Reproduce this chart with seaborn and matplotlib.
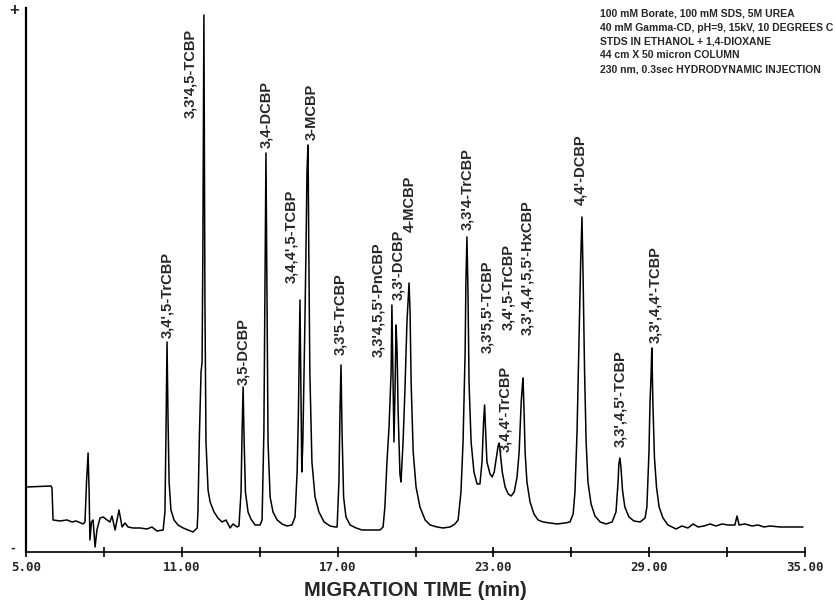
import matplotlib
matplotlib.use("Agg")
import matplotlib.pyplot as plt
import seaborn as sns

sns.set_theme(style="white")
plt.rcParams['font.family'] = ['Liberation Sans', 'DejaVu Sans']

# electropherogram trace (time in min, detector response in arbitrary units)
time = [5.05, 5.96, 6.00, 6.04, 6.31, 6.58, 6.77, 6.93, 7.20, 7.27, 7.33, 7.39, 7.43, 7.46,
        7.52, 7.58, 7.66, 7.73, 7.85, 7.97, 8.12, 8.23, 8.31, 8.43, 8.58, 8.70, 8.81, 8.93,
        9.12, 9.39, 9.66, 9.85, 10.04, 10.28,
        10.35, 10.39, 10.43, 10.47, 10.51, 10.58, 10.70, 10.85, 11.05, 11.24, 11.43, 11.59,
        11.62, 11.68, 11.74, 11.78, 11.81, 11.85, 11.89, 11.93, 12.01, 12.09, 12.24, 12.39,
        12.55, 12.70, 12.86, 12.97, 13.13,
        13.20, 13.28, 13.32, 13.36, 13.40, 13.45, 13.55, 13.66, 13.82, 14.01,
        14.09, 14.16, 14.20, 14.24, 14.28, 14.32, 14.40, 14.51, 14.67, 14.86, 15.05, 15.24,
        15.36, 15.44, 15.49, 15.55, 15.59, 15.62, 15.66, 15.74, 15.78, 15.82, 15.86, 15.89,
        15.93, 16.01, 16.13, 16.28, 16.48, 16.71, 16.90,
        16.98, 17.05, 17.09, 17.13, 17.17, 17.23, 17.32, 17.48, 17.71, 17.94, 18.17, 18.40, 18.63,
        18.75, 18.82, 18.90, 18.98, 19.06, 19.09, 19.13, 19.17, 19.21, 19.25, 19.29, 19.33,
        19.40, 19.44, 19.52, 19.59, 19.67, 19.75, 19.79, 19.83, 19.91, 20.02, 20.17, 20.37,
        20.56, 20.83, 21.06, 21.33, 21.52,
        21.64, 21.75, 21.83, 21.91, 21.94, 21.98, 22.02, 22.06, 22.14, 22.25, 22.37, 22.48,
        22.56, 22.62, 22.66, 22.70, 22.75, 22.87, 22.95, 23.03, 23.10, 23.18, 23.22, 23.26,
        23.34, 23.45, 23.57, 23.68, 23.80, 23.91, 23.99, 24.07, 24.11, 24.14, 24.18, 24.22,
        24.29, 24.41, 24.56, 24.72, 24.91, 25.18, 25.45, 25.76, 25.95,
        26.07, 26.14, 26.22, 26.30, 26.36, 26.41, 26.45, 26.51, 26.57, 26.64, 26.76, 26.91,
        27.11, 27.34, 27.57, 27.72,
        27.80, 27.83, 27.87, 27.91, 27.97, 28.06, 28.22, 28.41, 28.65, 28.84,
        28.91, 28.99, 29.03, 29.07, 29.10, 29.14, 29.20, 29.28, 29.38, 29.53, 29.72, 29.88,
        30.03, 30.26, 30.49, 30.69, 30.88, 31.11, 31.34, 31.57, 31.80, 32.03, 32.30, 32.38,
        32.46, 32.69, 32.96, 33.19, 33.42, 33.65, 34.04, 34.42, 34.92]

signal = [65, 66, 64, 32, 31, 32, 30, 31, 28, 30, 70, 99, 60, 12,
          30, 32, 5, 22, 34, 35, 32, 30, 36, 22, 42, 25, 29, 25,
          24, 24, 23, 25, 21, 22,
          40, 120, 210, 130, 70, 42, 32, 27, 24, 22, 20, 24,
          40, 120, 180, 190, 300, 537, 250, 110, 62, 50, 40, 34,
          30, 32, 24, 28, 25,
          26, 60, 120, 165, 110, 60, 40, 33, 27, 27,
          32, 120, 260, 399, 250, 110, 55, 40, 32, 28, 26, 27,
          35, 80, 140, 252, 150, 80, 110, 230, 300, 380, 407, 300,
          180, 90, 55, 40, 30, 26, 25,
          25, 70, 140, 187, 120, 55, 35, 27, 24, 22, 22, 22, 22,
          25, 45, 90, 125, 180, 247, 180, 110, 160, 227, 200, 140,
          78, 70, 110, 160, 230, 269, 240, 170, 100, 65, 45, 32,
          27, 25, 24, 25, 28,
          32, 60, 110, 200, 270, 315, 260, 170, 110, 80, 68, 68,
          90, 130, 147, 120, 90, 78, 75, 80, 92, 106, 109, 100,
          80, 65, 58, 56, 60, 75, 100, 150, 165, 174, 140, 100,
          70, 50, 38, 32, 30, 29, 28, 29, 30,
          38, 60, 120, 220, 290, 335, 280, 180, 110, 70, 48, 36,
          30, 28, 30, 40,
          70, 88, 94, 85, 62, 45, 35, 31, 30, 34,
          45, 100, 150, 175, 204, 150, 95, 65, 45, 34, 27, 25,
          23, 26, 24, 28, 25, 26, 28, 26, 28, 27, 27, 36,
          27, 28, 26, 27, 25, 26, 25, 25, 25]

peak_names = ["3,4',5-TrCBP", "3,3'4,5-TCBP", "3,5-DCBP", "3,4-DCBP", "3,4,4',5-TCBP",
              "3-MCBP", "3,3'5-TrCBP", "3,3'4,5,5'-PnCBP", "3,3'-DCBP", "4-MCBP",
              "3,3'4-TrCBP", "3,3'5,5'-TCBP", "3,4,4'-TrCBP", "3,4',5-TrCBP",
              "3,3',4,4',5,5'-HxCBP", "4,4'-DCBP", "3,3',4,5'-TCBP", "3,3',4,4'-TCBP"]

# where each rotated label sits (time, response at the label's lower end)
label_pos = [(10.43, 214), (11.32, 434), (13.36, 167), (14.24, 404), (15.21, 269),
             (16.01, 412), (17.09, 197), (18.56, 195), (19.33, 252), (19.79, 320),
             (21.98, 322), (22.75, 199), (23.47, 100), (23.56, 222), (24.29, 217),
             (26.33, 347), (27.87, 105), (29.22, 209)]

conditions = ["100 mM Borate, 100 mM SDS, 5M UREA",
              "40 mM Gamma-CD, pH=9, 15kV, 10 DEGREES C",
              "STDS IN ETHANOL + 1,4-DIOXANE",
              "44 cm X 50 micron COLUMN",
              "230 nm, 0.3sec HYDRODYNAMIC INJECTION"]

major_ticks = [5, 11, 17, 23, 29, 35]
minor_ticks = [8, 14, 20, 26, 32]

fig = plt.figure(figsize=(8.37, 6.03), dpi=100)
ax = fig.add_axes([0.0311, 0.0846, 0.9307, 0.9022])

sns.lineplot(x=time, y=signal, ax=ax, color="black", linewidth=1.1, estimator=None)

ax.set_xlim(5, 35)
ax.set_ylim(0, 544)
ax.set_yticks([])
ax.set_xticks(major_ticks)
ax.set_xticks(minor_ticks, minor=True)
ax.set_xticklabels([f"{t:.2f}" for t in major_ticks],
                   fontfamily="DejaVu Sans Mono", fontweight="bold", fontsize=9)
ax.tick_params(axis="x", which="both", direction="inout", length=7, width=1.2,
               color="black", pad=3, bottom=True)
for side in ["top", "right"]:
    ax.spines[side].set_visible(False)
ax.spines["left"].set_color("black")
ax.spines["left"].set_linewidth(1.6)
ax.spines["bottom"].set_color("black")
ax.spines["bottom"].set_linewidth(1.2)

ax.set_xlabel("MIGRATION TIME (min)", fontsize=14.5, fontweight="bold", labelpad=5)
ax.set_ylabel("")

for name, (t, s) in zip(peak_names, label_pos):
    ax.text(t, s, name, rotation=90, ha="center", va="bottom",
            fontsize=10.5, fontweight="bold")

for i, line in enumerate(conditions):
    fig.text(0.717, 1 - (14 + 13.8 * i) / 603, line, ha="left", va="center",
             fontsize=7.5, fontweight="bold")

fig.text(0.017, 0.983, "+", ha="center", va="center", fontsize=12, fontweight="bold")
fig.text(0.015, 0.091, "-", ha="center", va="center", fontsize=10, fontweight="bold")

fig.savefig("out.png", dpi=100, facecolor="white")
